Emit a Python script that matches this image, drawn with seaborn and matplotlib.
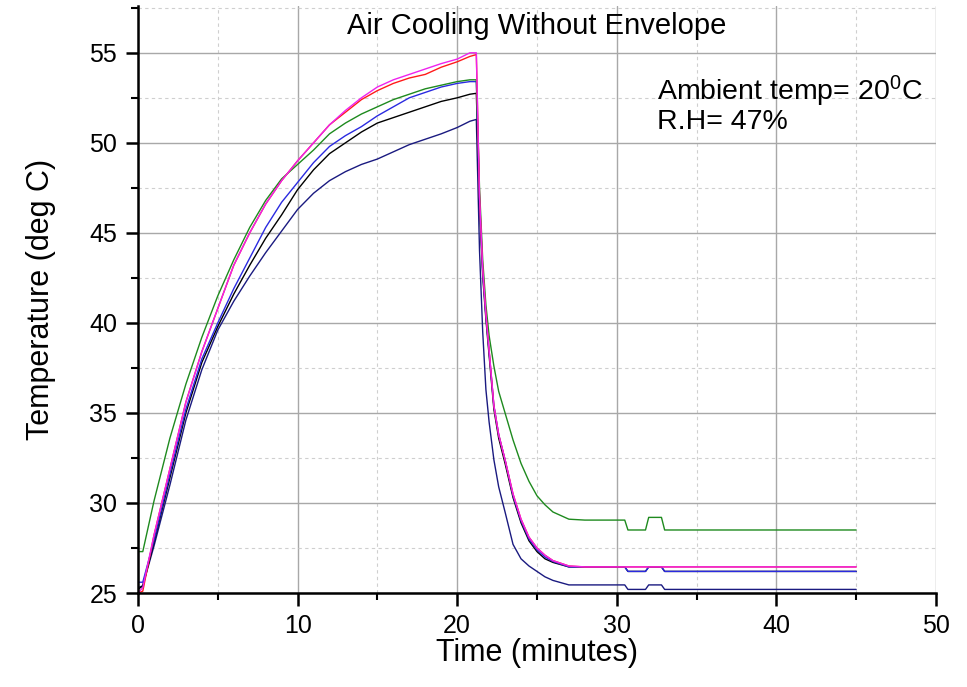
import numpy as np
import pandas as pd
import matplotlib
matplotlib.use("Agg")
import matplotlib.pyplot as plt
import seaborn as sns
from matplotlib.ticker import MultipleLocator

# --- datos (tiempo en minutos, temperatura en grados C) ---
time_min = [0, 0.3, 1, 2, 3, 4, 5, 6, 7, 8, 9, 10, 11, 12, 13, 14, 15, 16, 17, 18,
            19, 20, 20.8, 21.2, 21.4, 21.6, 21.8, 22, 22.3, 22.6, 23, 23.5, 24,
            24.5, 25, 25.5, 26, 27, 28, 30.5, 30.7, 31.8, 32.0, 32.8, 33.0, 40, 45]

temp_navy = [25.3, 25.4, 27.6, 31.0, 34.6, 37.4, 39.6, 41.2, 42.6, 43.9, 45.1, 46.3,
             47.2, 47.9, 48.4, 48.8, 49.1, 49.5, 49.9, 50.2, 50.5, 50.85, 51.2, 51.3,
             44.0, 39.5, 36.3, 34.5, 32.4, 30.9, 29.5, 27.7, 26.9, 26.5, 26.2, 25.9,
             25.7, 25.45, 25.45, 25.45, 25.2, 25.2, 25.45, 25.45, 25.2, 25.2, 25.2]

temp_black = [25.2, 25.4, 27.8, 31.4, 35.0, 37.8, 39.8, 41.6, 43.2, 44.7, 46.0, 47.4,
              48.5, 49.4, 50.0, 50.6, 51.1, 51.4, 51.7, 52.0, 52.3, 52.5, 52.7, 52.75,
              46.5, 42.6, 40.2, 38.2, 35.2, 33.6, 32.2, 30.3, 28.9, 27.9, 27.3, 26.9,
              26.7, 26.45, 26.45, 26.45, 26.2, 26.2, 26.45, 26.45, 26.2, 26.2, 26.2]

temp_blue = [25.6, 25.6, 27.9, 31.6, 35.2, 38.0, 40.0, 41.9, 43.6, 45.3, 46.7, 47.8,
             48.9, 49.8, 50.4, 50.9, 51.5, 52.0, 52.5, 52.8, 53.1, 53.3, 53.4, 53.4,
             46.8, 42.8, 40.4, 38.4, 35.4, 33.8, 32.4, 30.4, 29.0, 28.0, 27.4, 27.0,
             26.75, 26.45, 26.45, 26.45, 26.2, 26.2, 26.45, 26.45, 26.2, 26.2, 26.2]

temp_green = [27.3, 27.3, 30.1, 33.6, 36.6, 39.2, 41.5, 43.5, 45.3, 46.8, 48.0, 48.8,
              49.6, 50.5, 51.1, 51.6, 52.0, 52.4, 52.7, 53.0, 53.2, 53.4, 53.5, 53.5,
              47.5, 43.5, 41.0, 39.3, 37.6, 36.2, 35.0, 33.5, 32.2, 31.2, 30.4, 29.9,
              29.5, 29.1, 29.05, 29.05, 28.5, 28.5, 29.2, 29.2, 28.5, 28.5, 28.5]

temp_red = [25.0, 25.1, 28.2, 31.9, 35.6, 38.4, 40.8, 43.2, 45.0, 46.6, 47.9, 49.0,
            50.0, 51.0, 51.7, 52.4, 52.9, 53.3, 53.6, 53.8, 54.2, 54.5, 54.8, 54.9,
            47.0, 43.0, 40.5, 38.5, 35.4, 33.8, 32.4, 30.5, 29.1, 28.1, 27.5, 27.1,
            26.8, 26.5, 26.45, 26.45, 26.45, 26.45, 26.45, 26.45, 26.45, 26.45, 26.45]

temp_magenta = [25.0, 25.3, 28.2, 31.9, 35.6, 38.4, 40.8, 43.2, 45.0, 46.6, 47.9, 49.0,
                50.0, 51.0, 51.8, 52.5, 53.1, 53.5, 53.8, 54.1, 54.4, 54.65, 55.0, 55.0,
                47.0, 43.0, 40.5, 38.5, 35.4, 33.8, 32.4, 30.5, 29.1, 28.1, 27.5, 27.1,
                26.8, 26.5, 26.45, 26.45, 26.45, 26.45, 26.45, 26.45, 26.45, 26.45, 26.45]

series = {"T1": temp_navy, "T2": temp_black, "T3": temp_blue,
          "T4": temp_green, "T5": temp_red, "T6": temp_magenta}
colores = {"T1": "#1a1a80", "T2": "#000000", "T3": "#2a2ae0",
           "T4": "#1e8a1e", "T5": "#ff1a1a", "T6": "#ee22ee"}

df = pd.concat([pd.DataFrame({"time": time_min, "temp": v, "probe": k})
                for k, v in series.items()], ignore_index=True)

# --- estilo ---
sns.set_style("white")
plt.rcParams["font.family"] = ["Liberation Sans", "DejaVu Sans"]
plt.rcParams["mathtext.fontset"] = "custom"
plt.rcParams["mathtext.rm"] = "Liberation Sans"
plt.rcParams["mathtext.it"] = "Liberation Sans"
plt.rcParams["text.color"] = "black"
plt.rcParams["axes.labelcolor"] = "black"
plt.rcParams["xtick.color"] = "black"
plt.rcParams["ytick.color"] = "black"

fig = plt.figure(figsize=(9.67, 6.87), dpi=100, facecolor="white")
ax = fig.add_axes([0.1427, 0.1368, 0.8252, 0.8545])

sns.lineplot(data=df, x="time", y="temp", hue="probe", palette=colores,
             estimator=None, sort=False, legend=False, lw=1.0, ax=ax)

ax.set_xlim(0, 50)
ax.set_ylim(25, 57.6)
ax.xaxis.set_major_locator(MultipleLocator(10))
ax.xaxis.set_minor_locator(MultipleLocator(5))
ax.yaxis.set_major_locator(MultipleLocator(5))
ax.yaxis.set_minor_locator(MultipleLocator(2.5))

ax.grid(which="major", color="#a8a8a8", linestyle="-", linewidth=1.0)
ax.grid(which="minor", color="#cfcfcf", linestyle=(0, (3, 3)), linewidth=0.8)
ax.set_axisbelow(True)

sns.despine(ax=ax)
for s in ["left", "bottom"]:
    ax.spines[s].set_linewidth(1.8)
    ax.spines[s].set_color("black")

ax.tick_params(which="major", direction="out", length=9, width=1.8,
               labelsize=18, pad=6, bottom=True, left=True)
ax.tick_params(which="minor", direction="out", length=5, width=1.5,
               bottom=True, left=True)

ax.set_xlabel("Time (minutes)", fontsize=22, labelpad=0)
ax.set_ylabel("Temperature (deg C)", fontsize=22, labelpad=24)

ax.text(25, 56.06, "Air Cooling Without Envelope", ha="center", va="baseline",
        fontsize=21)
ax.text(32.5, 52.34, r"Ambient temp= 20$^{0}$C", ha="left", va="baseline",
        fontsize=20.5)
ax.text(32.5, 50.79, "R.H= 47%", ha="left", va="baseline", fontsize=20.5)

fig.savefig("out.png", dpi=100, facecolor="white")
